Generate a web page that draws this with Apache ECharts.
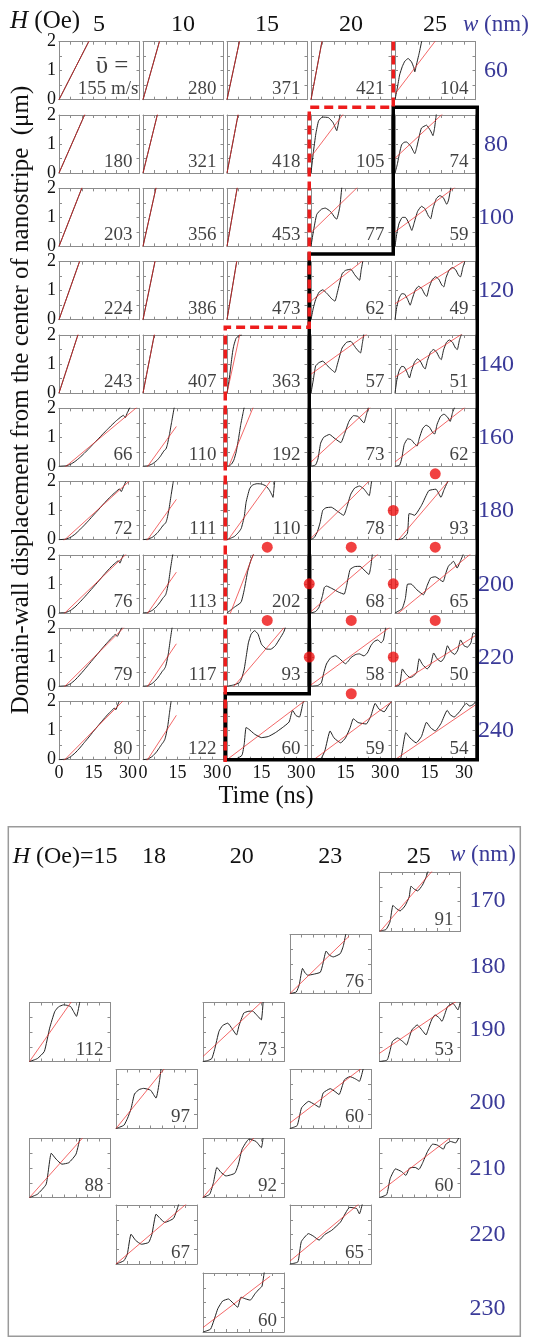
<!DOCTYPE html>
<html>
<head>
<meta charset="utf-8">
<script src="https://cdn.jsdelivr.net/npm/echarts/dist/echarts.min.js"></script>
<style>
  html, body { margin: 0; padding: 0; background: #fff; }
  #chart { width: 534px; height: 1337px; }
</style>
</head>
<body>
<div id="chart"></div>
<script>
// ---- Upper array: field H (columns) x stripe width w (rows) ----
const fieldsTop = [5, 10, 15, 20, 25];                              // H (Oe)
const widthsTop = [60, 80, 100, 120, 140, 160, 180, 200, 220, 240]; // w (nm)

// mean wall velocity (m/s) printed in every panel, row by row
const speedsTop = [
  [155, 280, 371, 421, 104],
  [180, 321, 418, 105, 74],
  [203, 356, 453, 77, 59],
  [224, 386, 473, 62, 49],
  [243, 407, 363, 57, 51],
  [66, 110, 192, 73, 62],
  [72, 111, 110, 78, 93],
  [76, 113, 202, 68, 65],
  [79, 117, 93, 58, 50],
  [80, 122, 60, 59, 54]
];

// value of the linear fit at t = 0 (um) and the time where the fit stops (ns)
const fitOffsetTop = [
  [0, 0, 0, 0, 0.2],
  [0, 0, 0, 0.56, 0.51],
  [0, 0, 0, 0.48, 0.5],
  [0, 0, 0, 0.64, 0.55],
  [0, 0, 0, 0.65, 0.55],
  [-0.2, -0.22, -0.15, 0.15, 0.15],
  [-0.18, -0.22, -0.055, 0.05, -0.14],
  [-0.19, -0.23, -0.3, 0.05, -0.1],
  [-0.2, -0.23, -0.28, 0.05, 0],
  [-0.2, -0.24, 0, -0.07, 0]
];
const fitEndTop = [
  [35, 35, 35, 35, 35],
  [35, 35, 35, 35, 35],
  [35, 35, 35, 35, 35],
  [35, 35, 35, 35, 35],
  [35, 35, 35, 35, 35],
  [35, 14.5, 35, 35, 35],
  [35, 14.5, 35, 35, 35],
  [35, 14.5, 35, 35, 35],
  [35, 14.5, 35, 35, 35],
  [35, 14.5, 35, 35, 35]
];

// wall displacement traces [t (ns), x (um)], one list per row, columns H = 5..25
const tracesW60 = [
  [[0, 0], [12.9, 2]],
  [[0, 0], [7.1, 2]],
  [[0, 0], [5.4, 2]],
  [[0, 0], [4.75, 2]],
  [[0, 0], [1, 0.4], [2, 0.85], [3.2, 1.15], [4.3, 1.33], [5.7, 1.42], [7.2, 1.3], [8.2, 1.1], [8.6, 0.96], [9.3, 1.2], [10.5, 1.6], [11.7, 2.05]]
];
const tracesW80 = [
  [[0, 0], [11.1, 2]],
  [[0, 0], [6.2, 2]],
  [[0, 0], [4.8, 2]],
  [[0, 0], [1, 0.7], [2.1, 1.35], [3.3, 1.8], [5, 1.93], [7.6, 1.91], [9.5, 1.75], [10.5, 1.58], [11.2, 1.46], [12, 1.75], [12.7, 2.05]],
  [[0, 0], [1, 0.3], [2, 0.7], [2.9, 0.98], [4, 1.06], [5, 1.07], [6.9, 0.92], [8.6, 0.67], [9.5, 0.9], [10.5, 1.25], [11.5, 1.55], [13.7, 1.65], [15.5, 1.45], [16.5, 1.29], [17.2, 1.55], [18, 2.05]]
];
const tracesW100 = [
  [[0, 0], [9.9, 2]],
  [[0, 0], [5.6, 2]],
  [[0, 0], [4.4, 2]],
  [[0, 0], [1, 0.5], [2.5, 1.1], [4.5, 1.28], [6.2, 1.32], [8.5, 1.2], [10.5, 0.98], [11.2, 0.94], [12.5, 1.35], [13.4, 2.05]],
  [[0, 0], [0.8, 0.45], [1.8, 0.8], [3.2, 1.0], [4.5, 1.0], [6, 0.8], [7.3, 0.55], [8.3, 0.8], [9.8, 1.2], [11.5, 1.38], [13, 1.3], [14.5, 1.05], [15.5, 0.95], [16.5, 1.3], [18, 1.65], [19.5, 1.75], [21, 1.68], [22.5, 1.45], [23.3, 1.6], [24.3, 2.05]]
];
const tracesW120 = [
  [[0, 0], [8.9, 2]],
  [[0, 0], [5.2, 2]],
  [[0, 0], [4.2, 2]],
  [[0, 0], [1, 0.4], [2, 0.69], [3.5, 0.95], [5.1, 1.03], [7, 0.9], [9, 0.72], [10.4, 0.64], [11.5, 0.95], [13.5, 1.58], [15, 1.7], [17.3, 1.74], [19, 1.55], [21.1, 1.36], [21.8, 1.7], [22.6, 2.05]],
  [[0, 0], [0.8, 0.45], [1.8, 0.75], [3, 0.9], [4.2, 0.88], [5.5, 0.7], [6.6, 0.5], [7.5, 0.72], [8.8, 1.02], [10.2, 1.15], [11.6, 1.08], [12.9, 0.88], [13.8, 0.8], [14.8, 1.1], [16.2, 1.38], [17.6, 1.48], [19, 1.4], [20.3, 1.2], [21.2, 1.13], [22.2, 1.45], [23.6, 1.72], [25, 1.8], [26.4, 1.72], [27.7, 1.52], [28.5, 1.48], [29.5, 1.8], [30.5, 2.05]]
];
const tracesW140 = [
  [[0, 0], [8.2, 2]],
  [[0, 0], [4.9, 2]],
  [[0, 0], [1, 0.5], [2, 1.15], [2.5, 1.45], [3, 1.65], [3.9, 1.88], [5, 1.97], [6.5, 2.0]],
  [[0, 0], [1, 0.45], [2, 0.93], [3.5, 1.05], [5.1, 1.1], [7, 0.95], [9, 0.8], [10.4, 0.71], [11.5, 1.0], [13.5, 1.55], [15.5, 1.75], [17.3, 1.78], [19.5, 1.55], [21.5, 1.38], [22.3, 1.7], [23, 2.05]],
  [[0, 0], [0.8, 0.45], [1.7, 0.75], [2.9, 0.92], [4, 0.9], [5.2, 0.72], [6.3, 0.52], [7.1, 0.75], [8.4, 1.05], [9.7, 1.18], [11, 1.1], [12.3, 0.9], [13.1, 0.83], [14.1, 1.12], [15.4, 1.4], [16.7, 1.5], [18, 1.42], [19.3, 1.22], [20.1, 1.15], [21.1, 1.48], [22.4, 1.75], [23.7, 1.83], [25, 1.75], [26.3, 1.55], [27.1, 1.5], [28, 1.82], [29, 2.05]]
];
const tracesW160 = [
  [[0, 0], [3, 0.02], [5, 0.07], [7, 0.17], [9, 0.3], [11, 0.45], [13, 0.61], [15, 0.78], [17, 0.94], [19, 1.11], [21, 1.27], [23, 1.43], [25, 1.58], [27, 1.71], [28, 1.76], [28.8, 1.68], [29.7, 1.85], [31, 2.05]],
  [[0, 0], [2, 0.02], [4, 0.08], [6, 0.2], [7.5, 0.34], [8.8, 0.5], [9.4, 0.56], [10, 0.6], [10.6, 0.75], [11.5, 1.1], [12.5, 1.55], [13.5, 2.0], [13.8, 2.1]],
  [[0, 0], [1, 0.02], [2, 0.08], [3, 0.22], [4, 0.5], [5, 0.95], [6, 1.45], [7, 1.85], [7.5, 2.05]],
  [[0, 0], [2, 0.05], [3, 0.25], [4.2, 0.8], [5.5, 1.0], [8, 1.1], [10.5, 0.95], [13, 0.82], [14.5, 1.1], [16.5, 1.55], [18.5, 1.75], [20.5, 1.72], [23, 1.5], [24, 1.75], [25, 2.05]],
  [[0, 0], [2, 0.04], [3, 0.3], [4, 0.75], [5.5, 0.95], [7, 0.92], [8.5, 0.78], [9.6, 0.7], [10.5, 0.95], [12, 1.3], [13.5, 1.42], [15, 1.35], [16.5, 1.15], [17.3, 1.12], [18.3, 1.45], [19.8, 1.72], [21.3, 1.8], [22.8, 1.7], [24, 1.55], [25, 1.85], [26, 2.05]]
];
const tracesW180 = [
  [[0, 0], [3, 0.02], [5, 0.08], [7, 0.19], [9, 0.34], [11, 0.5], [13, 0.67], [15, 0.85], [17, 1.02], [19, 1.2], [21, 1.37], [23, 1.53], [25, 1.67], [26.3, 1.75], [27.1, 1.66], [28, 1.82], [29.3, 2.05]],
  [[0, 0], [2, 0.02], [4, 0.08], [6.1, 0.22], [7.5, 0.36], [8.8, 0.5], [9.3, 0.53], [10, 0.6], [10.5, 0.73], [11.3, 1.05], [12.2, 1.52], [13.1, 1.97], [13.4, 2.1]],
  [[0, 0], [3.2, 0.11], [5, 0.25], [6.2, 0.39], [7.5, 0.8], [8.3, 1.29], [9.8, 1.75], [11, 1.88], [13, 1.93], [15, 1.92], [17, 1.85], [18.5, 1.7], [19.5, 1.55], [20, 1.46], [20.4, 1.75], [20.8, 2.05]],
  [[0, 0], [1.5, 0.08], [2.8, 0.28], [4, 0.6], [5.1, 1.01], [6.5, 1.1], [8.8, 1.12], [11.5, 0.98], [14.2, 0.84], [15.5, 1.1], [17.3, 1.57], [19, 1.78], [21.1, 1.85], [23, 1.75], [25.3, 1.52], [25.8, 1.7], [26.4, 2.05]],
  [[0, 0], [3.1, 0.03], [5.4, 0.22], [6.1, 0.9], [7.2, 0.88], [8.5, 0.84], [11.5, 1.18], [14.7, 1.69], [17.8, 1.74], [20, 1.46], [21.2, 1.7], [23.2, 2.05]]
];
const tracesW200 = [
  [[0, 0], [3, 0.02], [5, 0.09], [7, 0.21], [9, 0.37], [11, 0.54], [13, 0.72], [15, 0.9], [17, 1.08], [19, 1.27], [21, 1.45], [23, 1.62], [25, 1.76], [25.8, 1.8], [26.5, 1.72], [27.3, 1.88], [28.3, 2.05]],
  [[0, 0], [2, 0.02], [4, 0.09], [6, 0.23], [7.5, 0.38], [8.7, 0.52], [9.2, 0.56], [9.9, 0.64], [10.4, 0.78], [11.2, 1.1], [12, 1.55], [12.9, 2.0], [13.2, 2.1]],
  [[0, 0], [3.2, 0.2], [6.1, 0.37], [7.5, 0.8], [9, 1.44], [10.5, 1.85], [12, 2.1]],
  [[0, 0], [2, 0.05], [3.5, 0.2], [5, 0.6], [5.8, 0.88], [6.7, 0.93], [9, 0.85], [12, 0.72], [14.4, 0.65], [15.5, 0.95], [17, 1.5], [19, 1.6], [21.3, 1.61], [23.5, 1.45], [25.2, 1.33], [26, 1.6], [26.7, 2.05]],
  [[0, 0], [3.1, 0.15], [4.5, 0.5], [5.4, 0.99], [7, 1.0], [9.5, 0.8], [12.4, 0.63], [14, 0.95], [15.5, 1.21], [17.5, 1.25], [20.9, 1.08], [22, 1.35], [23.2, 1.61], [25.5, 1.78], [27, 1.55], [28.5, 1.8], [29.8, 2.05]]
];
const tracesW220 = [
  [[0, 0], [3, 0.02], [5, 0.09], [7, 0.22], [9, 0.39], [11, 0.57], [13, 0.76], [15, 0.95], [17, 1.14], [19, 1.33], [21, 1.51], [23, 1.68], [24.5, 1.79], [25.3, 1.72], [26.5, 1.9], [27.5, 2.05]],
  [[0, 0], [2, 0.02], [4, 0.1], [6, 0.25], [7.4, 0.4], [8.5, 0.53], [9, 0.57], [9.7, 0.66], [10.2, 0.8], [11, 1.12], [11.8, 1.57], [12.6, 2.0], [12.9, 2.1]],
  [[0, 0], [3, 0.05], [5.5, 0.13], [6.5, 0.3], [7.5, 0.6], [8.3, 1.0], [9.3, 1.5], [10.5, 1.8], [12, 1.92], [13.5, 1.8], [15, 1.45], [17, 1.29], [19, 1.28], [21, 1.4], [23, 1.65], [24.5, 1.85], [25.5, 2.05]],
  [[0, 0], [3, 0.03], [4.5, 0.12], [5.5, 0.45], [6.7, 0.77], [8.5, 0.98], [10.6, 1.06], [12.5, 0.95], [15, 0.78], [16, 0.85], [17.5, 1.0], [19.5, 1.1], [21, 1.12], [23, 1.05], [24.5, 1.15], [26, 1.4], [27.5, 1.55], [29, 1.6], [30.5, 1.5], [31.5, 1.6], [32.5, 2.05]],
  [[0, 0], [2, 0.05], [3.2, 0.6], [4.5, 0.45], [6.5, 0.3], [8, 0.35], [9.5, 0.5], [10.5, 0.95], [12, 0.75], [14, 0.6], [15.5, 0.75], [16.8, 1.15], [18.3, 0.95], [20, 0.85], [21.5, 1.0], [22.8, 1.4], [24.3, 1.2], [26, 1.1], [27.3, 1.25], [28.5, 1.6], [30, 1.4], [31.5, 1.35], [33, 1.5], [34, 1.85], [35, 1.8]]
];
const tracesW240 = [
  [[0, 0], [3, 0.02], [5, 0.1], [7, 0.23], [9, 0.4], [11, 0.59], [13, 0.78], [15, 0.98], [17, 1.17], [19, 1.36], [21, 1.54], [23, 1.7], [24, 1.78], [24.7, 1.72], [25.5, 1.88], [26.3, 2.05]],
  [[0, 0], [2, 0.02], [4, 0.11], [5.8, 0.26], [7.2, 0.42], [8.3, 0.55], [8.8, 0.6], [9.5, 0.7], [10, 0.85], [10.8, 1.18], [11.5, 1.6], [12.2, 2.0], [12.5, 2.1]],
  [[0, 0], [4, 0.03], [6.5, 0.15], [7.5, 0.55], [8.3, 1.11], [9.5, 1.05], [12, 0.88], [15, 0.76], [18, 0.8], [21, 0.93], [24, 1.1], [27, 1.3], [28.5, 1.7], [30, 1.52], [31.5, 1.47], [33, 1.94], [33.6, 2.05]],
  [[0, 0], [4.3, 0.04], [6, 0.3], [8.3, 0.99], [10, 0.75], [12.9, 0.58], [15, 0.75], [17, 1.1], [18.4, 1.41], [20.5, 1.28], [24, 1.23], [26, 1.5], [27.9, 1.94], [29.5, 1.75], [31.8, 1.65], [33.5, 1.85], [35, 2.0]],
  [[0, 0], [2.5, 0.05], [4.7, 0.93], [6.5, 0.75], [9.2, 0.58], [11.5, 0.8], [13.7, 1.29], [15.5, 1.1], [17.5, 0.99], [20, 1.25], [22.7, 1.7], [24, 1.55], [25.7, 1.47], [28, 1.65], [31, 1.94], [32.5, 1.85], [34, 1.9], [35, 2.0]]
];
const tracesTop = [tracesW60, tracesW80, tracesW100, tracesW120, tracesW140,
                   tracesW160, tracesW180, tracesW200, tracesW220, tracesW240];

// overlay in cell units (column boundary index, row boundary index)
const dashedBoundary = [[4, 0.1], [4, 1], [3, 1], [3, 4], [2, 4], [2, 9.93]];
const solidBoundary = [[4, 1], [5, 1], [5, 9.9], [2, 9.9], [2, 9], [3, 9], [3, 3], [4, 3], [4, 1]];
const redDots = [[4.5, 6], [4, 6.5], [2.5, 7], [3.5, 7], [4.5, 7], [3, 7.5], [4, 7.5],
                 [2.5, 8], [3.5, 8], [4.5, 8], [3, 8.5], [4, 8.5], [3.5, 9]];

// ---- Lower box: selected (H, w) combinations ----
const fieldsBottom = [15, 18, 20, 23, 25];
const widthsBottom = [170, 180, 190, 200, 210, 220, 230];
const bottomField = [25, 23, 15, 20, 25, 18, 23, 15, 20, 25, 18, 23, 20];
const bottomWidth = [170, 180, 190, 190, 190, 200, 200, 210, 210, 210, 220, 220, 230];
const bottomSpeed = [91, 76, 112, 73, 53, 97, 60, 88, 92, 60, 67, 65, 60];
const bottomFitOffset = [-0.04, 0, 0, 0.17, 0.28, 0, 0.19, 0, 0, 0.19, 0, 0.1, 0.15];
const bottomFitEnd = [35, 25.5, 35, 35, 35, 35, 35, 35, 35, 35, 35, 35, 29];
const tracesBottom = [
  [[0, 0], [2.8, 0.05], [4.5, 0.3], [5.8, 0.87], [7, 0.78], [8.9, 0.68], [11, 0.85], [12.8, 1.15], [13.6, 1.52], [15, 1.42], [16.5, 1.36], [18.5, 1.55], [20, 1.8], [21.1, 2.05]],
  [[0, 0], [2.7, 0.05], [4, 0.3], [5.4, 0.85], [6.5, 0.7], [7.7, 0.62], [10, 0.65], [13.1, 0.72], [14.2, 1.0], [15.6, 1.44], [17, 1.3], [18.7, 1.24], [21.7, 1.35], [23, 1.6], [24, 1.98], [24.3, 2.05]],
  [[0, 0], [3.4, 0.1], [6.4, 0.34], [8.7, 1.13], [10.9, 1.69], [12.5, 1.85], [14.7, 1.92], [16.5, 1.9], [17.8, 1.86], [19, 1.7], [20.3, 1.53], [21.8, 2.05]],
  [[0, 0], [2, 0.03], [3.8, 0.1], [5, 0.4], [6.9, 1.02], [8.5, 1.22], [10.7, 1.3], [12.5, 1.12], [14.5, 0.9], [15.5, 1.2], [17.6, 1.64], [19.5, 1.7], [21.4, 1.71], [23.5, 1.55], [25.2, 1.41], [26, 2.05]],
  [[0, 0], [3.3, 0.05], [4.5, 0.35], [5.6, 0.68], [7.8, 0.8], [10, 0.68], [11.7, 0.56], [12.8, 0.8], [14, 1.07], [16.3, 1.24], [18.5, 1.05], [20.1, 0.9], [21.3, 1.15], [22.5, 1.41], [24, 1.58], [25.8, 1.48], [27, 1.36], [28.2, 1.6], [29.4, 1.86], [31.7, 1.97], [33.9, 1.75], [35, 2.05]],
  [[0, 0], [3.4, 0.11], [5, 0.35], [6.5, 0.67], [8, 1.17], [10, 1.32], [11.9, 1.36], [14.9, 1.3], [17.3, 1.03], [18.8, 1.62], [19.5, 2.05]],
  [[0, 0], [3.1, 0.1], [5, 0.7], [8.1, 0.92], [10.5, 0.82], [12.7, 0.72], [14.3, 1.2], [17.4, 1.35], [19.5, 1.25], [21.2, 1.15], [23.5, 1.65], [25.9, 1.76], [28.3, 1.68], [30, 1.6], [31.7, 2.05]],
  [[0, 0], [3.4, 0.11], [7.2, 0.45], [9.4, 1.5], [11.5, 1.3], [14, 1.13], [17, 1.18], [20.1, 1.47], [21.9, 2.05]],
  [[0, 0], [2.9, 0.11], [4.5, 0.5], [6, 1.02], [7.8, 0.85], [9.9, 0.73], [13.7, 0.82], [15.3, 1.13], [16.9, 1.64], [19.9, 1.98], [22.9, 1.9], [25.2, 1.69], [26, 2.05]],
  [[0, 0], [3.1, 0.1], [4.6, 0.64], [6.9, 0.97], [9.5, 0.88], [11.4, 0.75], [13, 1.0], [15.4, 1.02], [17, 0.95], [18.5, 1.15], [20.7, 1.55], [23, 1.81], [24.9, 1.78], [27.6, 1.64], [28.6, 1.8], [30.7, 1.9], [32.9, 1.85], [34.4, 2.05]],
  [[0, 0], [3.4, 0.11], [4.9, 0.34], [6.5, 1.01], [8.5, 0.8], [11, 0.67], [14.1, 0.73], [15.5, 1.0], [17.3, 1.69], [19, 1.55], [21.1, 1.41], [24.9, 1.55], [27.2, 2.05]],
  [[0, 0], [3.4, 0.07], [4.9, 0.76], [8, 1.03], [10, 0.95], [12.6, 0.81], [15, 1.0], [18, 1.14], [21.8, 1.42], [25.8, 1.92], [28.8, 1.88], [30, 1.7], [31.3, 2.05]],
  [[0, 0], [3.3, 0.1], [6.4, 0.79], [8.5, 1.05], [11, 1.12], [13, 0.98], [15, 0.84], [16.4, 1.18], [18.5, 1.12], [20.4, 1.08], [22.5, 1.3], [24.3, 1.46], [25.5, 1.55], [26.5, 2.05]]
];

// ---------------- drawing ----------------
const SERIF = 'Liberation Serif, Times New Roman, serif';
const BLUE = '#3a3a98';
const FRAME = '#8c8c8c';

const option = {
  animation: false,
  backgroundColor: '#ffffff',
  grid: [], xAxis: [], yAxis: [], series: [], graphic: []
};

function frameAxis(extra) {
  return Object.assign({
    type: 'value',
    axisLine: { show: true, onZero: false, lineStyle: { color: FRAME, width: 1 } },
    axisTick: { show: true, inside: true, length: 3, lineStyle: { color: FRAME, width: 1 } },
    splitLine: { show: false },
    axisLabel: { show: false }
  }, extra);
}

function addPanel(p) {
  const gi = option.grid.length;
  option.grid.push({ left: p.x, top: p.y, width: p.w, height: p.h, containLabel: false, outerBoundsMode: 'none' });
  option.xAxis.push(frameAxis({
    gridIndex: gi, min: 0, max: 35, interval: 5, position: 'bottom',
    axisLabel: {
      show: !!p.xLabels, margin: 5, fontFamily: SERIF, fontSize: 18, color: '#111',
      formatter: v => (v % 15 === 0 ? String(v) : '')
    }
  }));
  option.xAxis.push(frameAxis({ gridIndex: gi, min: 0, max: 35, interval: 5, position: 'top' }));
  option.yAxis.push(frameAxis({
    gridIndex: gi, min: 0, max: 2, interval: 0.5, position: 'left',
    axisLabel: {
      show: !!p.yLabels, margin: 3, fontFamily: SERIF, fontSize: 18, color: '#111',
      formatter: v => (v % 1 === 0 ? String(v) : '')
    }
  }));
  option.yAxis.push(frameAxis({ gridIndex: gi, min: 0, max: 2, interval: 0.5, position: 'right' }));
  const xi = 2 * gi, yi = 2 * gi;

  // simulated wall displacement
  option.series.push({
    type: 'line', xAxisIndex: xi, yAxisIndex: yi, data: p.trace,
    smooth: 0.15, symbol: 'none', clip: true, silent: true, z: 3,
    lineStyle: { color: '#222', width: 1 }
  });
  // linear fit whose slope is the printed mean velocity (m/s = um/us)
  const slope = p.v / 1000;
  option.series.push({
    type: 'line', xAxisIndex: xi, yAxisIndex: yi,
    data: [[0, p.b], [p.te, p.b + slope * p.te]],
    symbol: 'none', clip: true, silent: true, z: 4,
    lineStyle: { color: 'rgba(238,40,40,0.7)', width: 1 }
  });
  // velocity value
  const first = !!p.first;
  option.series.push({
    type: 'scatter', xAxisIndex: xi, yAxisIndex: yi, data: [[35, 0]],
    symbolSize: 0.1, itemStyle: { color: 'transparent' }, silent: true, z: 5,
    label: {
      show: true,
      position: first ? [-1, -1] : [-7, -1],
      align: 'right', verticalAlign: 'bottom',
      fontFamily: SERIF, fontSize: 19, color: '#111', lineHeight: 20,
      formatter: first ? '{u|\u1FE1 =}\n{n|' + p.v + ' m/s}' : String(p.v),
      rich: first ? {
        u: { fontFamily: SERIF, fontSize: 25, color: '#111', padding: [0, 10, 2, 0], lineHeight: 25 },
        n: { fontFamily: SERIF, fontSize: 19, color: '#111', lineHeight: 19 }
      } : undefined
    }
  });
}

// upper array of panels
widthsTop.forEach((w, r) => {
  fieldsTop.forEach((h, c) => {
    addPanel({
      x: 59 + c * 84, y: 41.7 + r * 73.33, w: 80.5, h: 58,
      trace: tracesTop[r][c], v: speedsTop[r][c],
      b: fitOffsetTop[r][c], te: fitEndTop[r][c],
      yLabels: c === 0, xLabels: r === widthsTop.length - 1,
      first: r === 0 && c === 0
    });
  });
});

// lower box panels
const colX = { 15: 29.5, 18: 116, 20: 203, 23: 290, 25: 379.5 };
const rowY = { 170: 872, 180: 934.5, 190: 1002.5, 200: 1069.5, 210: 1138.5, 220: 1205, 230: 1273 };
bottomSpeed.forEach((v, i) => {
  addPanel({
    x: colX[bottomField[i]], y: rowY[bottomWidth[i]], w: 81, h: 59,
    trace: tracesBottom[i], v: v, b: bottomFitOffset[i], te: bottomFitEnd[i]
  });
});

// overlay grid over the upper array: x = column boundary, y = row boundary
const og = option.grid.length;
option.grid.push({ left: 57.25, top: 34.05, width: 420, height: 733, containLabel: false, outerBoundsMode: 'none' });
option.xAxis.push({ gridIndex: og, type: 'value', min: 0, max: 5, show: false });
option.xAxis.push({ gridIndex: og, type: 'value', min: 0, max: 5, show: false, position: 'top' });
option.yAxis.push({ gridIndex: og, type: 'value', min: 0, max: 10, inverse: true, show: false });
option.yAxis.push({ gridIndex: og, type: 'value', min: 0, max: 10, inverse: true, show: false, position: 'right' });
const ox = 2 * og, oy = 2 * og;
option.series.push({
  type: 'line', xAxisIndex: ox, yAxisIndex: oy, data: solidBoundary,
  symbol: 'none', clip: false, silent: true, z: 20,
  lineStyle: { color: '#000', width: 3.5, join: 'miter', cap: 'square' }
});
option.series.push({
  type: 'line', xAxisIndex: ox, yAxisIndex: oy, data: dashedBoundary,
  symbol: 'none', clip: false, silent: true, z: 21,
  lineStyle: { color: '#ee1c1c', width: 3.5, type: [9, 5], join: 'miter' }
});
option.series.push({
  type: 'scatter', xAxisIndex: ox, yAxisIndex: oy, data: redDots,
  symbol: 'circle', symbolSize: 11, clip: false, silent: true, z: 22,
  itemStyle: { color: '#ee1111' }
});

// ---- text ----
function txt(x, y, text, size, color, align, extra) {
  return Object.assign({
    type: 'text', x: x, y: y, silent: true, z: 30,
    style: {
      text: text, fontFamily: SERIF, fontSize: size, fill: color || '#111',
      align: align || 'center', verticalAlign: 'middle',
      textAlign: align || 'center', textVerticalAlign: 'middle'
    }
  }, extra || {});
}
const italicRich = (size, color) => ({ i: { fontStyle: 'italic', fontFamily: SERIF, fontSize: size, fill: color, color: color } });

const g = option.graphic;
// header of the upper array
const hdr = txt(10, 21, '{i|H} (Oe)', 25, '#111', 'left');
hdr.style.rich = italicRich(25, '#111');
g.push(hdr);
fieldsTop.forEach((h, c) => g.push(txt(99 + c * 84, 25, String(h), 24)));
const wHdr = txt(463, 25, '{i|w} (nm)', 23, BLUE, 'left');
wHdr.style.rich = italicRich(23, BLUE);
g.push(wHdr);
widthsTop.forEach((w, r) => g.push(txt(496, 71 + r * 73.33, String(w), 24, BLUE)));

// axis titles
g.push(txt(21, 400, 'Domain-wall displacement from the center of nanostripe  (\u03bcm)', 25, '#111', 'center', { rotation: Math.PI / 2 }));
g.push(txt(266, 797, 'Time (ns)', 24.5));

// lower box frame and headers
g.push({ type: 'rect', silent: true, z: 1, shape: { x: 8.3, y: 826.7, width: 512, height: 509.5 }, style: { fill: 'none', stroke: '#9a9a9a', lineWidth: 1.5 } });
const hdr2 = txt(12.7, 857, '{i|H} (Oe)=15', 24, '#111', 'left');
hdr2.style.rich = italicRich(24, '#111');
g.push(hdr2);
const colCenters = { 18: 154, 20: 241.7, 23: 330.3, 25: 418.7 };
fieldsBottom.slice(1).forEach(h => g.push(txt(colCenters[h], 857, String(h), 24)));
const wHdr2 = txt(450, 855, '{i|w} (nm)', 23, BLUE, 'left');
wHdr2.style.rich = italicRich(23, BLUE);
g.push(wHdr2);
const rowCenters = { 170: 901, 180: 966.7, 190: 1030, 200: 1102.3, 210: 1169, 220: 1234.7, 230: 1309 };
widthsBottom.forEach(w => g.push(txt(487.5, rowCenters[w], String(w), 24, BLUE)));

const chart = echarts.init(document.getElementById('chart'), null, { renderer: 'canvas', width: 534, height: 1337 });
chart.setOption(option);
</script>
</body>
</html>
